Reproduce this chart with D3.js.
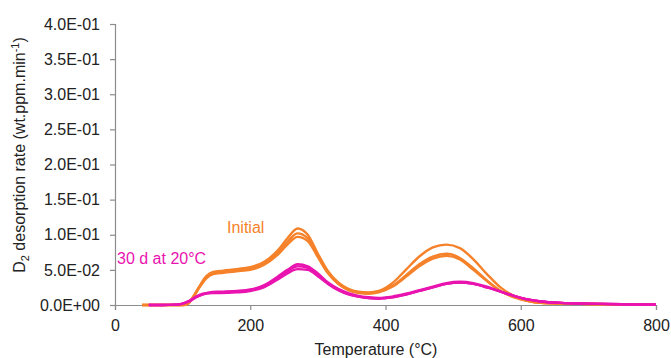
<!DOCTYPE html>
<html>
<head>
<meta charset="utf-8">
<script src="https://cdn.jsdelivr.net/npm/d3@7/dist/d3.min.js"></script>
<style>
  html, body { margin: 0; padding: 0; background: #fff; }
  svg { display: block; font-family: "Liberation Sans", Arial, sans-serif; }
</style>
</head>
<body>
<svg id="chart" width="671" height="358"></svg>
<script>
// Thermal desorption spectra: temperature (°C) vs D2 desorption rate (wt.ppm/min)
const xTicks = [0, 200, 400, 600, 800];
const yTicks = [0, 0.05, 0.10, 0.15, 0.20, 0.25, 0.30, 0.35, 0.40];

// Initial specimens (three runs)
const tInitial = [40, 60, 80, 100, 108, 115, 125, 135, 145, 160, 180, 200, 220, 240, 255, 270, 285, 300, 315, 330,
                  345, 360, 375, 390, 410, 430, 450, 470, 490, 510, 530, 550, 570, 590, 610, 630, 660, 700, 750, 800];
const initialRun1 = [0, 0, 0, 0, 0.002, 0.011, 0.027, 0.041, 0.047, 0.049, 0.051, 0.054, 0.061, 0.077, 0.095, 0.109, 0.100, 0.073, 0.048, 0.032,
                     0.023, 0.019, 0.018, 0.020, 0.031, 0.050, 0.069, 0.082, 0.086, 0.081, 0.065, 0.044, 0.025, 0.013, 0.006, 0.003, 0.002, 0.0015, 0.001, 0.0005];
const initialRun2 = [0, 0, 0, 0, 0.002, 0.010, 0.026, 0.039, 0.045, 0.048, 0.049, 0.052, 0.059, 0.074, 0.090, 0.102, 0.095, 0.070, 0.046, 0.031,
                     0.022, 0.018, 0.017, 0.019, 0.027, 0.042, 0.058, 0.069, 0.073, 0.067, 0.052, 0.035, 0.020, 0.012, 0.006, 0.003, 0.002, 0.0015, 0.001, 0.0005];
const initialRun3 = [0, 0, 0, 0, 0.002, 0.010, 0.025, 0.038, 0.044, 0.046, 0.048, 0.050, 0.057, 0.071, 0.086, 0.097, 0.091, 0.068, 0.045, 0.030,
                     0.021, 0.017, 0.016, 0.018, 0.026, 0.040, 0.055, 0.066, 0.070, 0.065, 0.050, 0.034, 0.020, 0.011, 0.006, 0.003, 0.002, 0.0015, 0.001, 0.0005];

// After 30 days of ageing at 20 °C (three runs)
const tAged = [50, 70, 90, 100, 110, 120, 130, 140, 155, 180, 200, 220, 240, 255, 270, 285, 300, 315, 330, 345,
               360, 375, 390, 410, 430, 450, 470, 490, 510, 530, 550, 570, 590, 610, 630, 660, 700, 750, 800];
const agedRun1 = [0, 0, 0.0005, 0.002, 0.006, 0.012, 0.016, 0.018, 0.019, 0.020, 0.022, 0.028, 0.040, 0.050, 0.058, 0.055, 0.045, 0.032, 0.023, 0.017,
                  0.013, 0.011, 0.010, 0.012, 0.016, 0.021, 0.026, 0.031, 0.033, 0.031, 0.026, 0.019, 0.013, 0.008, 0.005, 0.003, 0.002, 0.001, 0.0005];
const agedRun2 = [0, 0, 0.0005, 0.002, 0.006, 0.011, 0.015, 0.017, 0.018, 0.019, 0.021, 0.027, 0.038, 0.048, 0.055, 0.053, 0.043, 0.031, 0.022, 0.016,
                  0.012, 0.010, 0.0095, 0.011, 0.015, 0.020, 0.025, 0.030, 0.032, 0.030, 0.025, 0.019, 0.013, 0.008, 0.005, 0.003, 0.002, 0.001, 0.0005];
const agedRun3 = [0, 0, 0.0005, 0.002, 0.005, 0.011, 0.015, 0.017, 0.017, 0.018, 0.020, 0.025, 0.036, 0.045, 0.051, 0.050, 0.041, 0.030, 0.021, 0.015,
                  0.012, 0.010, 0.009, 0.011, 0.015, 0.020, 0.025, 0.030, 0.032, 0.030, 0.025, 0.019, 0.013, 0.008, 0.005, 0.003, 0.002, 0.001, 0.0005];

const ORANGE = "#F5822A";
const MAGENTA = "#E914AF";
const AXIS = "#8c8c8c";
const TEXT = "#222";
const FONT = "'Liberation Sans', Arial, sans-serif";

const svg = d3.select("#chart");
const x = d3.scaleLinear().domain([0, 800]).range([115, 656]);
const y = d3.scaleLinear().domain([0, 0.4]).range([305, 24]);

// scientific tick format with two-digit exponent, e.g. 5.0E-02
function sci(v) {
  const [m, e] = v.toExponential(1).split("e");
  const sign = e[0] === "-" ? "-" : "+";
  const digits = e.replace(/[+-]/, "").padStart(2, "0");
  return m + "E" + sign + digits;
}

// axes
const yAxis = d3.axisLeft(y).tickValues(yTicks).tickSize(5).tickPadding(10).tickFormat(sci);
const gy = svg.append("g").attr("transform", `translate(${x(0)},0)`).call(yAxis);
const xAxis = d3.axisBottom(x).tickValues(xTicks).tickSize(5).tickPadding(10).tickFormat(d3.format("d"));
const gx = svg.append("g").attr("transform", `translate(0,${y(0)})`).call(xAxis);
[gx, gy].forEach(g => {
  g.select(".domain").attr("stroke", AXIS).attr("stroke-width", 1.2);
  g.selectAll(".tick line").attr("stroke", AXIS).attr("stroke-width", 1.2);
  g.selectAll(".tick text").attr("fill", TEXT).style("font-size", "16px").style("font-family", FONT);
});

// curves
const line = d3.line().curve(d3.curveMonotoneX);
function drawRun(temps, vals, color) {
  svg.append("path")
    .attr("d", line(temps.map((t, i) => [x(t), y(vals[i])])))
    .attr("fill", "none")
    .attr("stroke", color)
    .attr("stroke-width", 2.4)
    .attr("stroke-linejoin", "round");
}
[initialRun1, initialRun2, initialRun3].forEach(r => drawRun(tInitial, r, ORANGE));
[agedRun1, agedRun2, agedRun3].forEach(r => drawRun(tAged, r, MAGENTA));

// series labels
svg.append("text").attr("x", 227).attr("y", 233).attr("fill", ORANGE)
  .style("font-size", "16px").text("Initial");
svg.append("text").attr("x", 117).attr("y", 264).attr("fill", MAGENTA)
  .style("font-size", "16px").text("30 d at 20°C");

// axis titles
svg.append("text").attr("x", 376).attr("y", 355).attr("text-anchor", "middle")
  .attr("fill", TEXT).style("font-size", "16px").text("Temperature (°C)");

const yt = svg.append("text")
  .attr("transform", "translate(25,155) rotate(-90)")
  .attr("text-anchor", "middle").attr("fill", TEXT).style("font-size", "16px");
yt.append("tspan").text("D");
yt.append("tspan").attr("dy", 4).style("font-size", "11px").text("2");
yt.append("tspan").attr("dy", -4).text(" desorption rate (wt.ppm.min");
yt.append("tspan").attr("dy", -6).style("font-size", "11px").text("-1");
yt.append("tspan").attr("dy", 6).text(")");
</script>
</body>
</html>
